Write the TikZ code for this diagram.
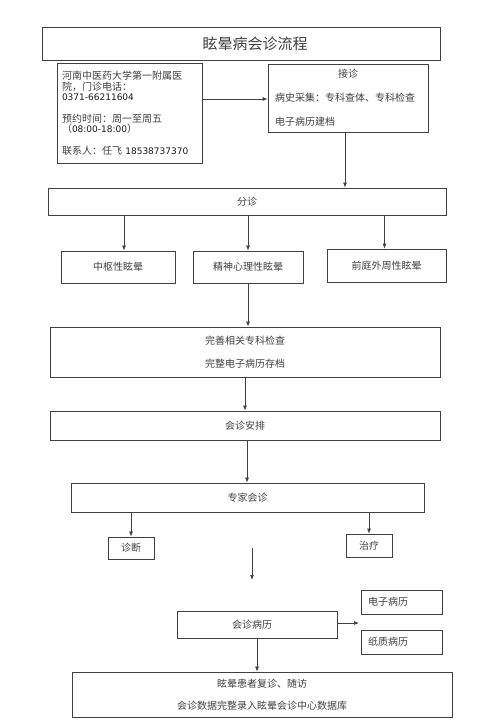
\documentclass[tikz,border=0pt]{standalone}
\usepackage{fontspec}
\setmainfont{Noto Sans CJK SC}
\newfontfamily\numfont{DejaVu Sans}
\newcommand{\numtxt}[1]{{\numfont\fontsize{9}{10.5}\selectfont\color{black!90}#1}}
\usetikzlibrary{arrows.meta}
\begin{document}
\begin{tikzpicture}[x=1pt,y=-1pt,
  box/.style={draw=black!75, line width=0.8pt, inner sep=0pt, text=black!75,
    font=\fontsize{10}{12}\selectfont},
  arr/.style={-{Latex[length=5pt,width=4pt]}, draw=black!75, line width=0.7pt}]
\useasboundingbox[fill=white] (0,0) rectangle (486,727);

\node[box, minimum width=398, minimum height=33, font=\fontsize{15}{17}\selectfont]
  (title) at (241,43.5) {\hspace*{28pt}眩晕病会诊流程};

\node[box, minimum width=145, minimum height=100, align=left, text width=135, inner xsep=5pt,
  font=\fontsize{10}{10.5}\selectfont] (info) at (129.5,113)
  {河南中医药大学第一附属医\\院，门诊电话：\\\numtxt{0371-66211604}\\[11pt]
   预约时间：周一至周五\\（\numtxt{08:00-18:00}）\\[11pt]
   联系人：任飞 \numtxt{18538737370}};

\node[box, minimum width=160, minimum height=68, align=left, text width=146, inner xsep=7pt,
  font=\fontsize{10}{12}\selectfont] (jz) at (348,98)
  {\makebox[146pt]{接诊}\\[12pt]病史采集：专科查体、专科检查\\[12pt]电子病历建档};

\node[box, minimum width=398, minimum height=27] (fz) at (247,201.5) {分诊};

\node[box, minimum width=114, minimum height=32] (zs) at (118,267) {中枢性眩晕};
\node[box, minimum width=110, minimum height=32] (js) at (248,267) {精神心理性眩晕};
\node[box, minimum width=119, minimum height=33] (qt) at (386.5,265.5) {前庭外周性眩晕};

\node[box, minimum width=390, minimum height=50, align=center] (ws) at (245,352)
  {完善相关专科检查\\[11pt]完整电子病历存档};

\node[box, minimum width=390, minimum height=29] (ap) at (245,425.5) {会诊安排};

\node[box, minimum width=353, minimum height=29] (zj) at (247.5,497.5) {专家会诊};

\node[box, minimum width=46, minimum height=22] (zd) at (131,548) {诊断};
\node[box, minimum width=46, minimum height=23] (zl) at (369,545.5) {治疗};

\coordinate (fa) at (252,548);
\coordinate (fb) at (252,580);

\node[box, minimum width=160, minimum height=27] (bl) at (257,624.5) {\hspace*{-10pt}会诊病历};

\node[box, minimum width=81, minimum height=24, align=left, text width=67, inner xsep=7pt] (dz) at (401.5,602) {电子病历};
\node[box, minimum width=81, minimum height=24, align=left, text width=67, inner xsep=7pt] (zz) at (401.5,642) {纸质病历};
\coordinate (bt) at (359,623);

\node[box, minimum width=380, minimum height=45, align=center] (fin) at (262,694.5)
  {眩晕患者复诊、随访\\[10pt]会诊数据完整录入眩晕会诊中心数据库};

% connectors
\draw[arr] (info.east |- 0,99) -- (jz.west |- 0,99);
\draw[arr] ([xshift=-3pt]jz.south) -- ([xshift=-3pt]jz.south |- fz.north);
\draw[arr] ([xshift=6pt]fz.south -| zs.north) -- ([xshift=6pt]zs.north);
\draw[arr] (fz.south -| js.north) -- (js.north);
\draw[arr] ([xshift=-2pt]fz.south -| qt.north) -- ([xshift=-2pt]qt.north);
\draw[arr] (js.south) -- (js.south |- ws.north);
\draw[arr] (ws.south) -- (ap.north);
\draw[arr] ([xshift=2pt]ap.south) -- ([xshift=2pt]ap.south |- zj.north);
\draw[arr] (zj.south -| zd.north) -- (zd.north);
\draw[arr] (zj.south -| zl.north) -- (zl.north);
\draw[arr] (fa) -- (fb);
\draw[arr] (bl.east |- bt) -- (bt);
\draw[arr] (bl.south) -- (bl.south |- fin.north);
\end{tikzpicture}
\end{document}
